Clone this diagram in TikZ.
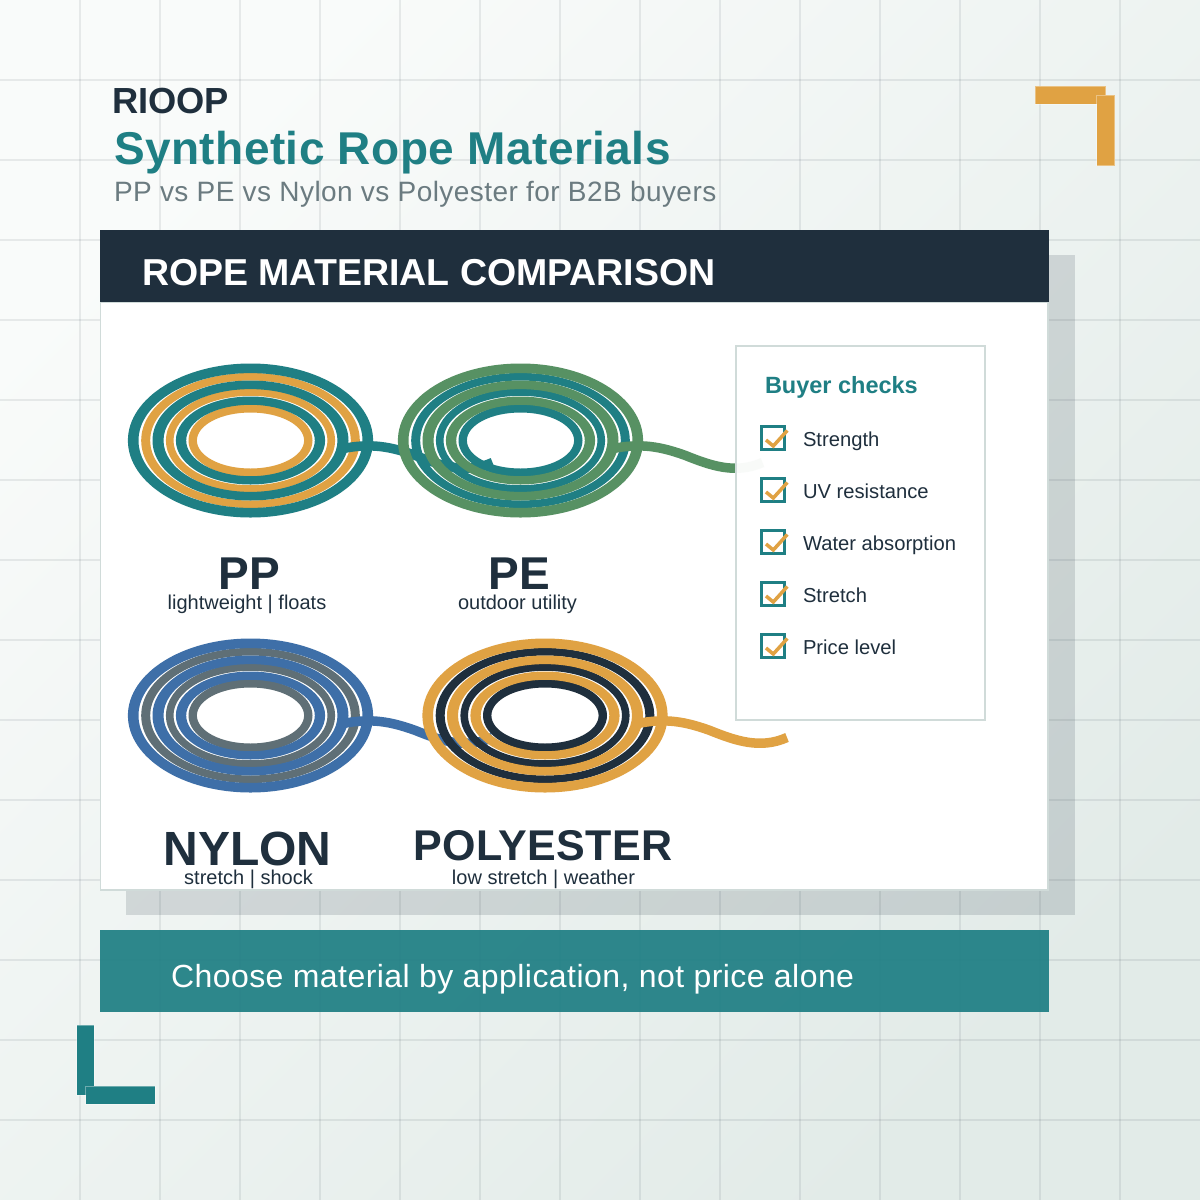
\documentclass[tikz,border=0pt]{standalone}
\usepackage{fontspec}
\setmainfont{Liberation Sans}
\definecolor{teal}{HTML}{1F7F84}
\definecolor{amber}{HTML}{E0A243}
\definecolor{navy}{HTML}{1F2F3D}
\definecolor{moss}{HTML}{579163}
\definecolor{azure}{HTML}{3E6FA8}
\definecolor{slategrey}{HTML}{5F6F76}
\definecolor{borderc}{HTML}{D0DBD9}
\definecolor{bgstart}{HTML}{F9FBFA}
\definecolor{bgend}{HTML}{E2EBE8}
\definecolor{subc}{HTML}{6B7B80}
\newcommand{\fs}[2]{\fontsize{#1}{#1}\selectfont\addfontfeature{LetterSpace=#2}}
% ring: colour, outer rx, outer ry, inner rx, inner ry
\newcommand{\ring}[5]{\fill[#1,even odd rule] (0,0) ellipse[x radius=#2,y radius=#3] (0,0) ellipse[x radius=#4,y radius=#5];}
% centre x, centre y, outer colour, inner colour
\newcommand{\coil}[4]{%
  \begin{scope}[shift={(#1,#2)}]
    \ring{#4}{109.3}{67.6}{100.3}{60}
    \ring{#4}{84.6}{52.2}{77}{44.7}
    \ring{#4}{62}{36.6}{53.6}{28}
    \ring{#3}{122.6}{77}{112}{67.4}
    \ring{#3}{98}{60}{87}{51.4}
    \ring{#3}{74.6}{44}{64.3}{35.7}
    \draw[rope,line width=9.5pt,draw=#3] (88,9) .. controls (115,3) and (135,4) .. (165,15) .. controls (190,25) and (215,34) .. (242,22);
  \end{scope}}
\tikzset{
  rope/.style={fill=none},
  gridline/.style={draw=navy,draw opacity=.085,line width=1.6pt},
  lbl/.style={inner sep=0pt,outer sep=0pt,anchor=base west},
  clbl/.style={inner sep=0pt,outer sep=0pt,anchor=base},
  checkbox/.style={draw=teal,line width=3pt,fill=none},
  tick/.style={draw=amber,line width=3.5pt},
  item/.style={lbl,text=navy,font=\fs{20.2}{0}},
  corner/.style={draw=white,draw opacity=.35,line width=.6pt}
}
\begin{document}
\begin{tikzpicture}[x=1pt,y=-1pt]
\useasboundingbox (0,0) rectangle (1200,1200);
\shade[left color=bgstart, right color=bgend, shading angle=45] (0,0) rectangle (1200,1200);
\foreach \k in {80,160,...,1120} {
  \draw[gridline] (\k,0) -- (\k,1200);
  \draw[gridline] (0,\k) -- (1200,\k);
}
% corners
\fill[amber,corner] (1035,86) rectangle (1105.5,104.3);
\fill[amber,corner] (1096.7,95) rectangle (1114.5,165.5);
\fill[teal,corner] (76.7,1025.3) rectangle (94.3,1095.3);
\fill[teal,corner] (85.7,1086.3) rectangle (155.3,1104.3);
% title
\node[lbl,text=navy,font=\bfseries\fs{36.3}{0}] (brand) at (112,113) {RIOOP};
\node[lbl,text=teal,font=\bfseries\fs{46}{1}] (title) at (114,164) {Synthetic Rope Materials};
\node[lbl,text=subc,font=\fs{28}{1.6}] (sub) at (114,201) {PP vs PE vs Nylon vs Polyester for B2B buyers};
% card
\fill[navy,opacity=.15] (126,255) rectangle (1075,915);
\draw[fill=white,draw=borderc,line width=1.5pt] (100.5,302) rectangle (1048,890);
\fill[navy] (100,230) rectangle (1049,302);
\node[lbl,text=white,font=\bfseries\fs{37.5}{0}] (head) at (142,285) {ROPE MATERIAL COMPARISON};
\fill[teal,opacity=.93] (100,930) rectangle (1049,1012);
\node[lbl,text=white,font=\fs{32}{1.4}] (foot) at (171,987) {Choose material by application, not price alone};
% coils
\coil{250.5}{440.5}{teal}{amber}
\coil{250.5}{715.5}{azure}{slategrey}
\coil{520.5}{440.5}{moss}{teal}
\coil{545}{715.5}{amber}{navy}
% labels
\node[clbl,text=navy,font=\bfseries\fs{46}{0}] (pp) at (249,589) {PP};
\node[clbl,text=navy,font=\fs{20}{0}] (ppd) at (247,609) {lightweight | floats};
\node[clbl,text=navy,font=\bfseries\fs{46}{0}] (pe) at (519,589) {PE};
\node[clbl,text=navy,font=\fs{20}{0}] (ped) at (517.5,609) {outdoor utility};
\node[clbl,text=navy,font=\bfseries\fs{48}{0}] (ny) at (247.5,865) {NYLON};
\node[clbl,text=navy,font=\fs{20}{0}] (nyd) at (248.5,884) {stretch | shock};
\node[clbl,text=navy,font=\bfseries\fs{43}{.8}] (po) at (543,860) {POLYESTER};
\node[clbl,text=navy,font=\fs{20}{0}] (pod) at (543.5,884) {low stretch | weather};
% panel
\draw[fill=white,fill opacity=.96,draw=borderc,line width=2pt] (736,346) rectangle (985,720);
\node[lbl,text=teal,font=\bfseries\fs{23.5}{0}] (buyer) at (765,393) {Buyer checks};
\foreach \y/\t in {438/Strength,490/UV resistance,542/Water absorption,594/Stretch,646/Price level} {
  \draw[checkbox] (761,\y-11.5) rectangle (784.5,\y+11.5);
  \draw[tick] (766,\y+2) -- (773.3,\y+8) -- (787.3,\y-7.5);
  \node[item] at (803,\y+8) {\t};
}
\end{tikzpicture}
\end{document}
